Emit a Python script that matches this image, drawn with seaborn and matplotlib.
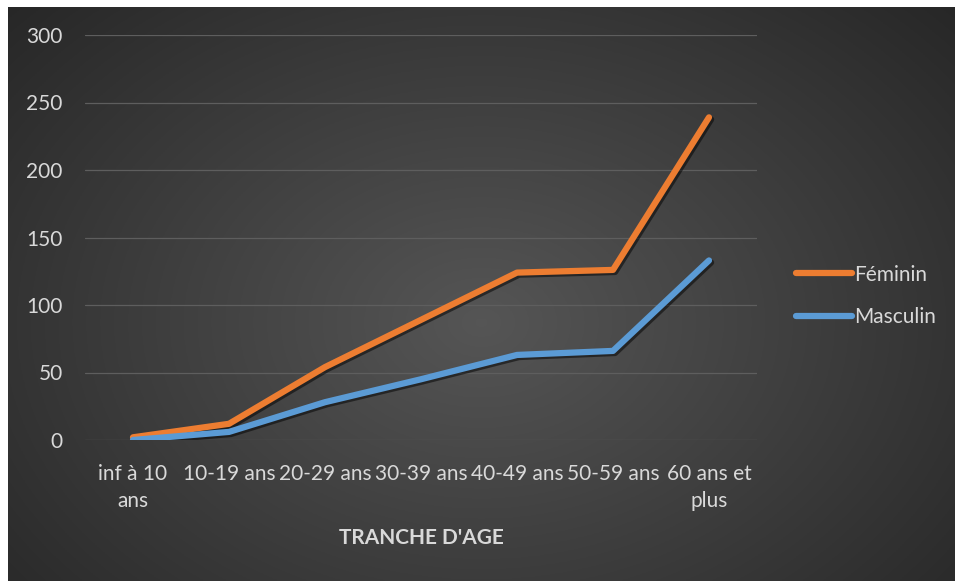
import numpy as np
import pandas as pd
import matplotlib
matplotlib.use("Agg")
import matplotlib.pyplot as plt
import matplotlib.patheffects as path_effects
import seaborn as sns

# Data
categories = ["inf à 10\nans", "10-19 ans", "20-29 ans", "30-39 ans",
              "40-49 ans", "50-59 ans", "60 ans et\nplus"]
feminin = [2, 12, 54, 89, 124, 126, 239]
masculin = [0, 6, 28, 45, 63, 66, 133]
series_names = ["Féminin", "Masculin"]
colors = ["#ED7D31", "#5B9BD5"]

df = pd.DataFrame({
    "pos": list(range(len(categories))) * 2,
    "value": feminin + masculin,
    "sexe": [series_names[0]] * len(categories) + [series_names[1]] * len(categories),
})

sns.set_style("white")
plt.rcParams["font.family"] = ["Lato", "DejaVu Sans"]
text_col = "#d9d9d9"

fig = plt.figure(figsize=(9.57, 5.81), dpi=100)
fig.patch.set_facecolor("white")

# dark radial gradient background (Excel style)
bg = fig.add_axes([8 / 957, 0, 947 / 957, 574 / 581], zorder=0)
gy, gx = np.mgrid[0:1:300j, 0:1:500j]
r = np.sqrt(((gx - 0.5) / 0.75) ** 2 + ((gy - 0.55) / 0.9) ** 2)
shade = np.clip(0.335 - 0.2 * r, 0.13, 0.34)
bg.imshow(np.dstack([shade] * 3), aspect="auto", extent=[0, 1, 0, 1])
bg.axis("off")

ax = fig.add_axes([85 / 957, 1 - 440 / 581, 672 / 957, 405 / 581], zorder=1)
ax.set_facecolor("none")

shadow = [path_effects.SimpleLineShadow(offset=(1.5, -1.5), shadow_color="black", alpha=0.5),
          path_effects.Normal()]
sns.lineplot(data=df, x="pos", y="value", hue="sexe", palette=colors, ax=ax,
             linewidth=4.5, solid_capstyle="round", solid_joinstyle="round",
             legend=False, path_effects=shadow)

ax.set_xlim(-0.5, len(categories) - 0.5)
ax.set_ylim(0, 300)
ax.set_yticks(range(0, 301, 50))
ax.set_xticks(range(len(categories)))
ax.set_xticklabels(categories, color=text_col, fontsize=15, linespacing=1.45)
ax.tick_params(axis="y", colors=text_col, labelsize=15, length=0, pad=16)
ax.tick_params(axis="x", length=0, pad=17)
for lbl in ax.get_yticklabels():
    lbl.set_color(text_col)
ax.grid(axis="y", color="#5e5e5e", linewidth=0.9)
ax.grid(axis="x", visible=False)
for s in ax.spines.values():
    s.set_visible(False)
ax.set_ylabel("")
ax.set_xlabel("TRANCHE D'AGE", color=text_col, fontsize=15, fontweight="bold")
ax.xaxis.set_label_coords(0.5, -98 / 405)
ax.xaxis.label.set_verticalalignment("center")

handles = [plt.Line2D([0], [0], color=c, linewidth=4.5, solid_capstyle="round") for c in colors]
leg = fig.legend(handles, series_names, loc="center left", bbox_to_anchor=(777 / 957, 1 - 296 / 581),
                 frameon=False, fontsize=15, handlelength=2.7, handletextpad=0.1,
                 labelspacing=1.1)
for t in leg.get_texts():
    t.set_color(text_col)

fig.savefig("out.png", dpi=100)
